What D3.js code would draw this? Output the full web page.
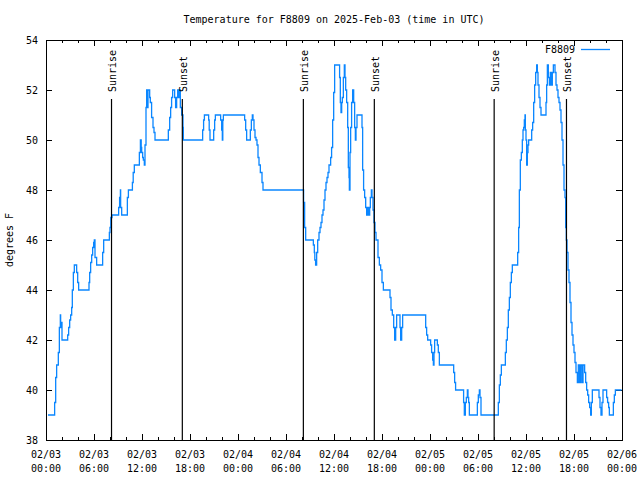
<!DOCTYPE html>
<html>
<head>
<meta charset="utf-8">
<script src="https://cdn.jsdelivr.net/npm/d3@7"></script>
<style>
  html, body { margin: 0; padding: 0; background: #fff; }
  svg text { font-family: "DejaVu Sans Mono", monospace; font-size: 10px; fill: #000; }
</style>
</head>
<body>
<svg id="chart" width="640" height="480"></svg>
<script>
// ---------- data (hours since 2025-02-03 00:00 UTC, degrees F) ----------
const readings = [
[0.25,39],[1.08,39.5],[1.21,40.5],[1.33,41],[1.54,41.5],[1.67,42.5],[1.79,43],[1.83,42.5],[1.92,42.7],[2.0,42],[2.71,42.2],[2.83,42.5],[2.96,42.8],[3.08,43],[3.21,43.3],[3.29,44],[3.42,44.7],[3.54,45],[3.83,44.7],[3.96,44.3],[4.08,44],[5.375,44.3],[5.46,44.7],[5.58,45.1],[5.71,45.4],[5.83,45.7],[5.96,45.9],[6.04,46],[6.125,45.3],[6.33,45],[7.08,45.5],[7.21,46],[7.92,46.3],[8.0,46.5],[8.1,46.9],[8.25,47],[9.08,47.3],[9.2,47.7],[9.3,48],[9.33,47.3],[9.46,47],[10.17,47.7],[10.3,48],[10.8,48.3],[10.9,48.7],[11.04,49],[11.67,49.5],[11.8,50],[11.9,49.7],[11.96,49.5],[12.08,49.3],[12.17,49.2],[12.29,49],[12.375,49.8],[12.5,51.3],[12.58,52],[12.67,51.3],[12.75,52],[12.96,51.7],[13.04,51.5],[13.2,50.9],[13.375,50.5],[13.5,50.3],[13.625,50],[15.29,50.4],[15.46,50.9],[15.58,51.3],[15.7,51.7],[15.83,52],[16.08,51.7],[16.2,51.3],[16.33,51.7],[16.46,52],[16.58,51.7],[16.67,52],[16.79,51.3],[16.96,51],[17.125,50.5],[17.17,50],
[19.58,50.4],[19.7,50.8],[19.8,51],[20.33,50.8],[20.4,50.4],[20.5,50],[20.96,50.4],[21.08,50.8],[21.17,51],[21.83,50.8],[21.96,50.4],[22.04,50],[22.1,50.8],[22.17,51],[24.83,50.8],[24.96,50.4],[25.08,50],[25.54,50.4],[25.67,50.8],[25.79,51],[25.875,50.8],[26.0,50.4],[26.125,50.1],[26.25,50],[26.375,49.8],[26.5,49.3],[26.625,49],[26.79,48.7],[27.0,48.3],[27.125,48],
[32.2,47.5],[32.33,46.5],[32.46,46],[33.42,45.8],[33.54,45.5],[33.6,45.2],[33.7,45],[33.83,45.5],[33.96,46],[34.125,46.3],[34.25,46.5],[34.375,46.7],[34.5,47],[34.625,47.2],[34.75,47.6],[34.875,48],[35.0,48.3],[35.125,48.5],[35.25,48.7],[35.375,49],[35.58,49.3],[35.7,49.7],[35.83,50.8],[35.96,51.9],[36.08,53],[36.7,52.5],[36.79,51.5],[36.875,51.1],[36.96,51.5],[37.04,51.7],[37.17,52.5],[37.29,53],[37.375,52.5],[37.46,52],[37.58,51.5],[37.71,50.5],[37.79,48.9],[37.875,48.5],[37.92,48],[38.0,49.5],[38.08,50.5],[38.2,51.5],[38.33,52],[38.46,51.5],[38.58,50.5],[38.67,50],[38.75,50.5],[38.875,51],[39.5,50.5],[39.58,48.8],[39.7,48],[39.83,47.7],[39.96,47.3],[40.08,47],[40.2,47.3],[40.33,47],[40.46,47.3],[40.54,47.7],[40.67,48],[40.75,47.7],[40.875,47.2],[41.0,46.7],[41.125,46.3],[41.25,46],[41.5,45.3],[41.67,45],[41.83,44.8],[42.0,44.3],[42.17,44],[43.0,43.7],[43.125,43.2],[43.29,43],[43.46,42.5],[43.58,42],[43.71,42.5],[43.83,43],[44.25,42.5],[44.33,42],[44.46,42.5],[44.58,43],[47.46,42.5],[47.58,42.2],[47.71,42],[48.08,41.8],[48.2,41.5],[48.33,41.2],[48.42,41],[48.5,41.5],[48.58,42],[48.92,41.8],[49.04,41.5],[49.17,41],[50.96,40.7],[51.08,40.3],[51.2,40],[52.2,39.5],[52.29,39],[52.42,39.5],[52.54,39.7],[52.67,40],[52.75,39.7],[52.83,39.5],[52.92,39],[53.92,39.5],[54.04,39.8],[54.17,40],[54.25,39.7],[54.375,39],[56.54,39.5],[56.67,40.2],[56.79,40.6],[56.92,41],[57.42,41.5],[57.54,42],[57.67,42.5],[57.79,43.2],[57.92,43.7],[58.04,44.3],[58.17,44.7],[58.29,45],[58.96,45.5],[59.08,46.5],[59.17,48],[59.29,49.2],[59.42,49.5],[59.54,50],[59.625,50.4],[59.71,50.5],[59.79,50.8],[59.875,51],[59.92,50.4],[60.0,50],[60.08,49],[60.17,49.5],[60.25,49.8],[60.33,50],[60.71,50.4],[60.83,50.7],[60.96,51.5],[61.08,52.2],[61.21,52.7],[61.33,53],[61.42,52.7],[61.5,52.2],[61.625,51.7],[61.75,51.3],[61.875,51],[62.5,51.5],[62.58,52.2],[62.67,53],[62.79,52.5],[62.92,52.2],[63.04,52.7],[63.17,52.2],[63.29,52.7],[63.42,53],[63.625,52.7],[63.75,52.2],[63.875,52],[64.0,51.7],[64.125,51.5],[64.25,51.2],[64.375,50.7],[64.5,50],[64.625,49],[64.75,48],[64.875,47.7],[64.96,46.5],[65.04,46],[65.125,45.5],[65.25,44.8],[65.375,44.3],[65.5,43.5],[65.625,42.7],[65.75,42.2],[65.875,41.8],[66.0,41.5],[66.125,41.1],[66.25,40.7],[66.42,40.3],[66.54,41],[66.71,40.3],[66.83,41],[67.0,40.3],[67.13,41],[67.33,40.7],[67.46,40.3],[67.58,40],[67.71,39.8],[67.83,39.5],[67.96,39.3],[68.08,39],[68.17,39.5],[68.29,40],[69.125,39.7],[69.25,39.3],[69.375,39],[69.5,39.5],[69.625,40],[70.08,39.7],[70.2,39.5],[70.33,39.3],[70.42,39],[70.92,39.5],[71.04,39.8],[71.17,40],[71.95,40]
];
const sunHours  = [8.19, 17.04, 32.17, 41.04, 56.02, 65.06];
const sunLabels = ["Sunrise", "Sunset", "Sunrise", "Sunset", "Sunrise", "Sunset"];
const yTicks = [38, 40, 42, 44, 46, 48, 50, 52, 54];
const xTickHours = [0, 6, 12, 18, 24, 30, 36, 42, 48, 54, 60, 66, 72];
const xTickDates = ["02/03","02/03","02/03","02/03","02/04","02/04","02/04","02/04","02/05","02/05","02/05","02/05","02/06"];
const xTickTimes = ["00:00","06:00","12:00","18:00","00:00","06:00","12:00","18:00","00:00","06:00","12:00","18:00","00:00"];
const seriesName = "F8809";
const titleText = "Temperature for F8809 on 2025-Feb-03 (time in UTC)";
const yLabel = "degrees F";

// ---------- layout ----------
const L = 46, R = 622, T = 40, B = 440;
const color = "#0a86ff";
const svg = d3.select("#chart");

const x = d3.scaleLinear().domain([0, 72]).range([L, R]);
const y = d3.scaleLinear().domain([38, 54]).range([B, T]);

// title (centred over the plot area)
svg.append("text").attr("x", (L + R) / 2).attr("y", 23).attr("text-anchor", "middle").text(titleText);

// y label
svg.append("text").attr("transform", `translate(13,${(T + B) / 2}) rotate(-90)`)
  .attr("text-anchor", "middle").text(yLabel);

// axes
const minor = d3.range(0, 73, 2);
function addAxis(axis, tr) {
  const g = svg.append("g").attr("transform", tr).call(axis);
  g.select(".domain").remove();
  g.selectAll("line").attr("stroke", "#000").attr("shape-rendering", "crispEdges");
  return g;
}
addAxis(d3.axisBottom(x).tickValues(minor).tickSize(-3).tickFormat(""), `translate(0,${B})`);
addAxis(d3.axisTop(x).tickValues(minor).tickSize(-3).tickFormat(""), `translate(0,${T})`);
addAxis(d3.axisBottom(x).tickValues(xTickHours).tickSize(-6).tickFormat(""), `translate(0,${B})`);
addAxis(d3.axisTop(x).tickValues(xTickHours).tickSize(-6).tickFormat(""), `translate(0,${T})`);
const gy = addAxis(d3.axisLeft(y).tickValues(yTicks).tickSize(-6).tickPadding(8).tickFormat(d3.format("d")), `translate(${L},0)`);
gy.selectAll("text").attr("font-family", null).attr("font-size", null).attr("dy", "0.35em");
addAxis(d3.axisRight(y).tickValues(yTicks).tickSize(-6).tickFormat(""), `translate(${R},0)`);

// x tick labels (two lines)
const xl = svg.append("g");
xTickHours.forEach((h, i) => {
  const t = xl.append("text").attr("x", x(h)).attr("y", 458).attr("text-anchor", "middle");
  t.append("tspan").attr("x", x(h)).text(xTickDates[i]);
  t.append("tspan").attr("x", x(h)).attr("dy", 14).text(xTickTimes[i]);
});

// data line (steps)
const line = d3.line().x(d => x(d[0])).y(d => y(d[1])).curve(d3.curveStepAfter);
svg.append("path").datum(readings).attr("d", line)
  .attr("fill", "none").attr("stroke", color).attr("stroke-width", 1.3);

// sunrise / sunset markers
sunHours.forEach((h, i) => {
  svg.append("line").attr("x1", x(h)).attr("x2", x(h)).attr("y1", 99).attr("y2", B)
    .attr("stroke", "#000").attr("stroke-width", 1.2);
  svg.append("text").attr("transform", `translate(${x(h) + 4.5},92) rotate(-90)`)
    .attr("text-anchor", "start").text(sunLabels[i]);
});

// border
svg.append("rect").attr("x", L).attr("y", T).attr("width", R - L).attr("height", B - T)
  .attr("fill", "none").attr("stroke", "#000").attr("shape-rendering", "crispEdges");

// legend
svg.append("text").attr("x", 575).attr("y", 53).attr("text-anchor", "end").text(seriesName);
svg.append("line").attr("x1", 581).attr("x2", 610).attr("y1", 49.5).attr("y2", 49.5)
  .attr("stroke", color).attr("stroke-width", 1.3);
</script>
</body>
</html>
